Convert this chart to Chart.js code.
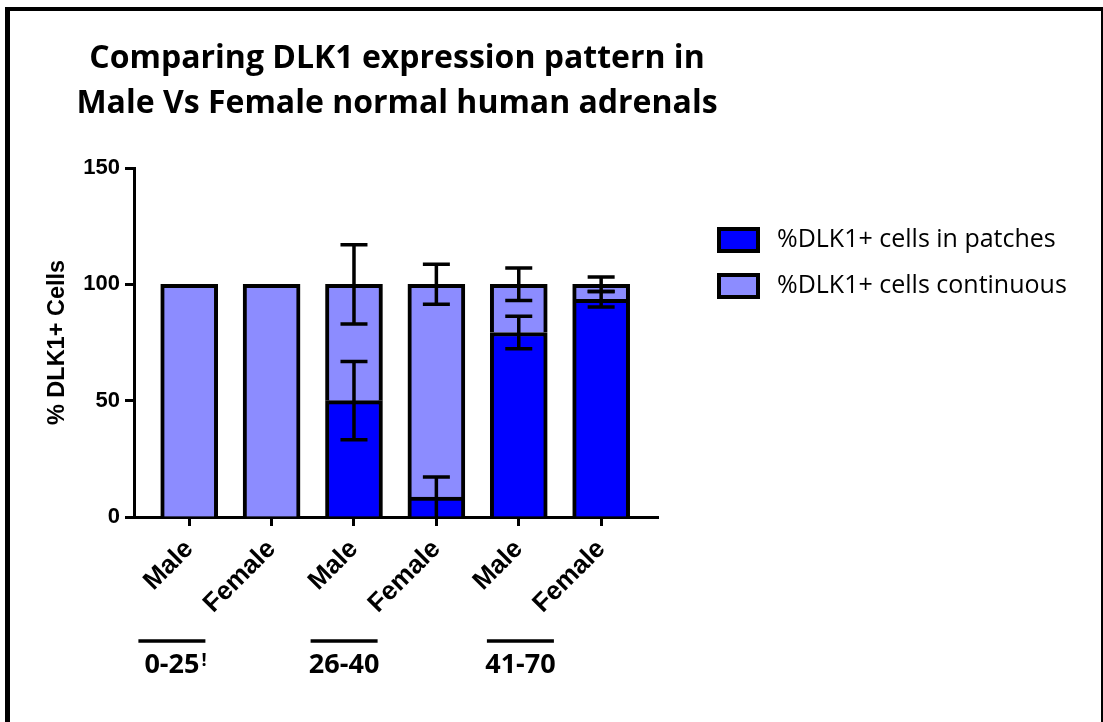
<!DOCTYPE html>
<html>
<head>
<meta charset="utf-8">
<title>DLK1 expression pattern</title>
<script src="https://cdn.jsdelivr.net/npm/chart.js@4.4.1/dist/chart.umd.min.js"></script>
<style>
  html, body { margin: 0; padding: 0; background: #fff; overflow: hidden; }
  #frame {
    position: absolute; left: 5px; top: 7px;
    width: 1091px; height: 711px;
    border-left: 5px solid #000; border-top: 4px solid #000; border-right: 2px solid #000;
  }
  canvas { display: block; }
</style>
</head>
<body>
<div id="frame"><canvas id="chart" width="1091" height="711"></canvas></div>
<script>
// values
const categories = ['Male', 'Female', 'Male', 'Female', 'Male', 'Female'];
const patches = [0, 0, 50, 8.6, 79.3, 93.6];
const continuous = [100, 100, 50, 91.4, 20.7, 6.4];
const patchesSD = [0, 0, 16.8, 8.6, 7, 3.3];
const continuousSD = [0, 0, 17, 8.6, 7, 3.1];
const yTicks = [0, 50, 100, 150];
const ageGroups = ['0-25', '26-40', '41-70'];
const ageNotes = ['!', '', ''];
const seriesNames = ['%DLK1+ cells in patches', '%DLK1+ cells continuous'];
const titleLines = ['Comparing DLK1 expression pattern in', 'Male Vs Female normal human adrenals'];

const boldSans = { family: 'Liberation Sans', weight: 'bold' };
const legendFont = { family: 'Open Sans', size: 25 };
const legendBox = 39, legendPad = 21;

// legend sits in a fixed place, so work out its natural width first
const measure = document.createElement('canvas').getContext('2d');
measure.font = legendFont.size + 'px ' + legendFont.family;
const legendTextW = Math.max(...seriesNames.map(t => measure.measureText(' ' + t).width));
const legendW = legendPad + legendBox + legendFont.size / 2 + legendTextW + 10;
const legendLeft = 688;
const padRight = 1091 - legendLeft - legendW;

// draws mean +/- SD whiskers on top of each stacked segment
const errorBars = {
    id: 'errorBars',
    afterDatasetsDraw(chart, args, opts) {
        const ctx = chart.ctx;
        const x = chart.scales.x;
        const y = chart.scales.y;
        const sets = chart.data.datasets;
        ctx.save();
        ctx.strokeStyle = '#000';
        ctx.lineWidth = opts.width;
        sets.forEach((ds, i) => {
            ds.data.forEach((pt, j) => {
                const sd = ds.errors[j];
                if (!sd) return;
                let top = 0;
                for (let k = 0; k <= i; k++) top += sets[k].data[j].y;
                const px = x.getPixelForValue(pt.x);
                const hi = y.getPixelForValue(top + sd);
                const lo = y.getPixelForValue(Math.max(top - sd, 0));
                ctx.beginPath();
                ctx.moveTo(px, hi);
                ctx.lineTo(px, lo);
                ctx.moveTo(px - opts.cap, hi);
                ctx.lineTo(px + opts.cap, hi);
                if (top - sd > 0) {
                    ctx.moveTo(px - opts.cap, lo);
                    ctx.lineTo(px + opts.cap, lo);
                }
                ctx.stroke();
            });
        });
        ctx.restore();
    }
};

// two-line title centred over the plot, allowed to be wider than it
const plotTitle = {
    id: 'plotTitle',
    afterDraw(chart, args, opts) {
        const ctx = chart.ctx;
        const a = chart.chartArea;
        const cx = (a.left + a.right) / 2 + opts.shift;
        ctx.save();
        ctx.fillStyle = '#000';
        ctx.font = 'bold 32px "Open Sans"';
        ctx.textAlign = 'center';
        ctx.textBaseline = 'alphabetic';
        titleLines.forEach((t, i) => ctx.fillText(t, cx, opts.baseline + i * opts.lineGap));
        ctx.restore();
    }
};

// age group captions under the rotated sex labels
const ageLabels = {
    id: 'ageLabels',
    afterDraw(chart, args, opts) {
        const ctx = chart.ctx;
        const x = chart.scales.x;
        ctx.save();
        ctx.strokeStyle = '#000';
        ctx.fillStyle = '#000';
        ageGroups.forEach((g, i) => {
            const cx = x.getPixelForValue(opts.centers[i]);
            ctx.lineWidth = 3.5;
            ctx.beginPath();
            ctx.moveTo(cx - opts.half, opts.lineY);
            ctx.lineTo(cx + opts.half, opts.lineY);
            ctx.stroke();
            ctx.font = 'bold 27px "Open Sans"';
            ctx.textAlign = 'center';
            ctx.textBaseline = 'alphabetic';
            ctx.fillText(g, cx, opts.textY);
            if (ageNotes[i]) {
                const w = ctx.measureText(g).width;
                ctx.font = 'bold 18px "Open Sans"';
                ctx.textAlign = 'left';
                ctx.fillText(ageNotes[i], cx + w / 2 + 2, opts.textY - 7);
            }
        });
        ctx.restore();
    }
};

Chart.defaults.color = '#000';

new Chart(document.getElementById('chart'), {
    type: 'bar',
    data: {
        datasets: [{
            label: seriesNames[0],
            data: patches.map((v, i) => ({ x: i, y: v })),
            errors: patchesSD,
            backgroundColor: '#0000ff',
            borderColor: '#000',
            borderWidth: 4,
            barThickness: 57
        }, {
            label: seriesNames[1],
            data: continuous.map((v, i) => ({ x: i, y: v })),
            errors: continuousSD,
            backgroundColor: '#8c8cff',
            borderColor: '#000',
            borderWidth: 4,
            barThickness: 57
        }]
    },
    options: {
        responsive: false,
        animation: false,
        devicePixelRatio: 1,
        layout: { padding: { left: 20, right: padRight, top: 157, bottom: 0 } },
        scales: {
            x: {
                type: 'linear',
                min: -0.67,
                max: 5.69,
                offset: false,
                stacked: true,
                afterBuildTicks: s => { s.ticks = categories.map((c, i) => ({ value: i })); },
                afterFit: s => { s.height = 205; },
                grid: { offset: false, drawOnChartArea: false, tickLength: 9, tickWidth: 3, color: '#000' },
                border: { color: '#000', width: 3 },
                ticks: {
                    autoSkip: false,
                    minRotation: 45,
                    maxRotation: 45,
                    padding: 8,
                    font: { ...boldSans, size: 26 },
                    callback: v => categories[v]
                }
            },
            y: {
                stacked: true,
                min: 0,
                max: 150,
                afterBuildTicks: s => { s.ticks = yTicks.map(v => ({ value: v })); },
                afterFit: s => { s.width = 104; },
                grid: { drawOnChartArea: false, tickLength: 9, tickWidth: 3, color: '#000' },
                border: { color: '#000', width: 3 },
                ticks: { padding: 5, font: { ...boldSans, size: 22 } },
                title: {
                    display: true,
                    text: '% DLK1+ Cells',
                    font: { ...boldSans, size: 23.5 },
                    padding: { top: 13, bottom: 0 }
                }
            },
            // empty axis, only keeps the gap between plot and legend
            y2: {
                position: 'right',
                grid: { display: false },
                border: { display: false },
                ticks: { display: false },
                afterFit: s => { s.width = 40; }
            }
        },
        plugins: {
            title: { display: false },
            legend: {
                position: 'right',
                align: 'start',
                maxWidth: 1000,
                title: { display: true, text: '', font: { size: 10, lineHeight: 1 }, padding: { top: 28.5, bottom: 0 } },
                labels: {
                    boxWidth: legendBox,
                    boxHeight: 22,
                    padding: legendPad,
                    font: legendFont,
                    generateLabels: chart => Chart.defaults.plugins.legend.labels.generateLabels(chart)
                        .map(item => ({ ...item, text: ' ' + item.text }))
                }
            },
            tooltip: { enabled: false },
            errorBars: { width: 3.5, cap: 13.5 },
            plotTitle: { shift: 1, baseline: 57, lineGap: 45 },
            ageLabels: { centers: [-0.21, 1.88, 4.02], half: 33.5, lineY: 630, textY: 662 }
        }
    },
    plugins: [errorBars, plotTitle, ageLabels]
});
</script>
</body>
</html>
